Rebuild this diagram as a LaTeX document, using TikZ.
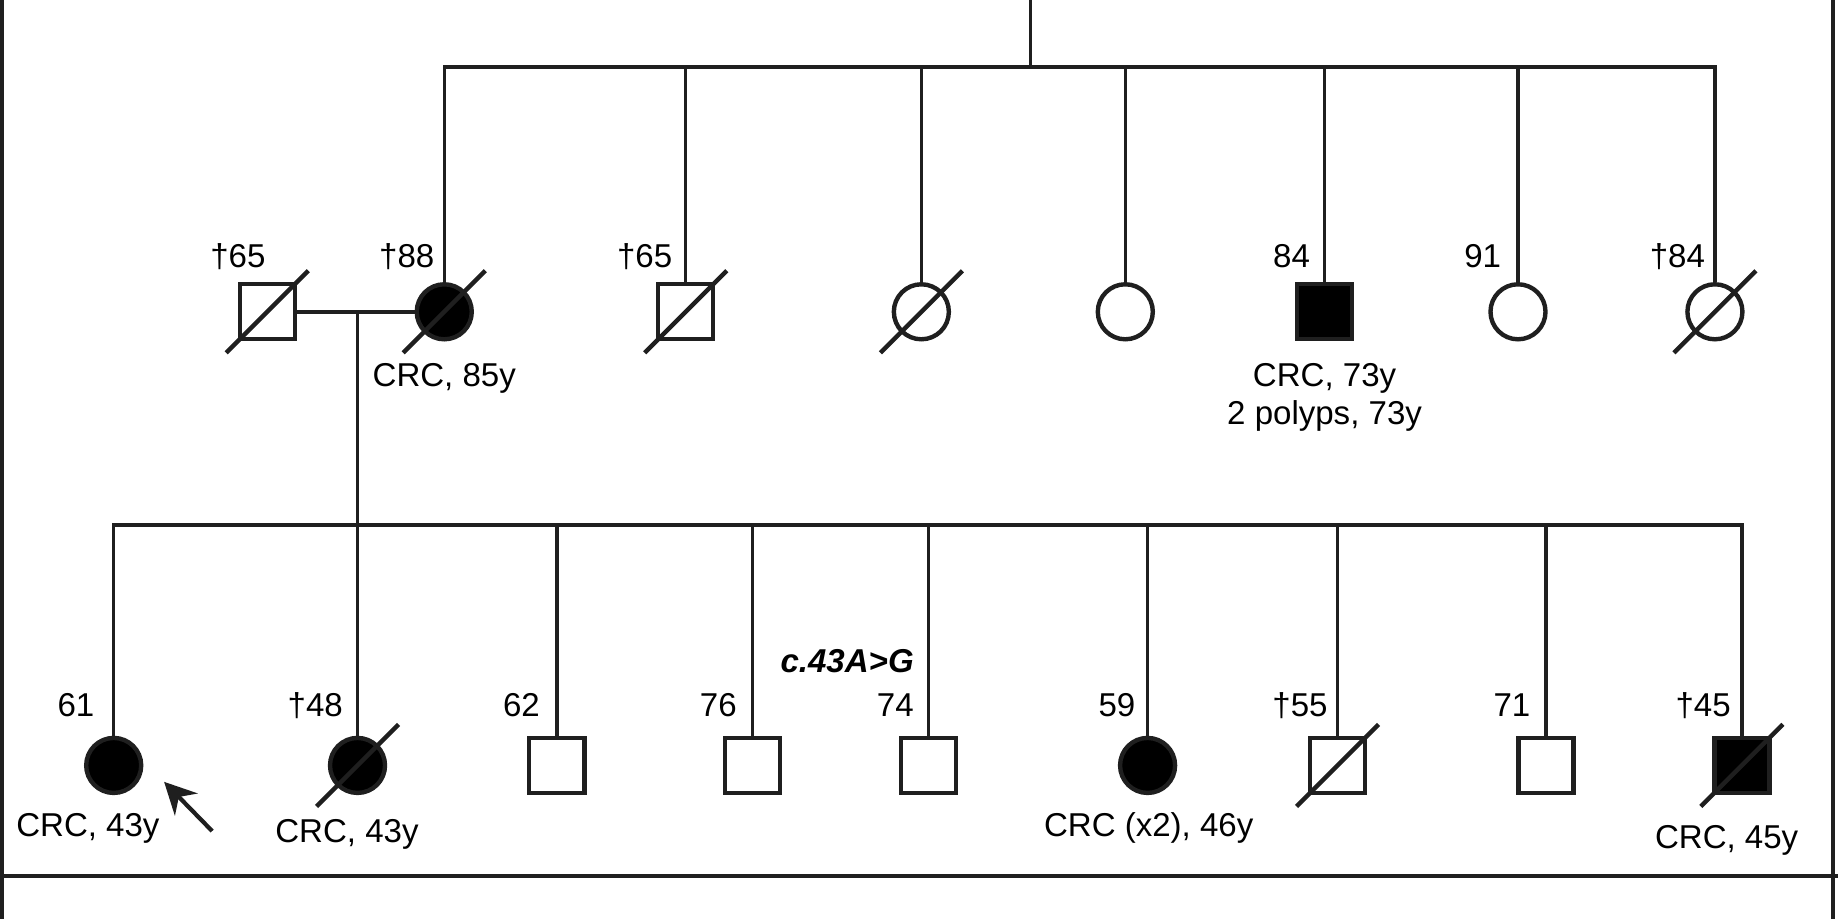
\documentclass[tikz,border=0pt]{standalone}
\usepackage{fontspec}
\setmainfont{Liberation Sans}
\usetikzlibrary{arrows.meta}

\begin{document}
\begin{tikzpicture}[x=0.011722cm, y={(0,-0.011722cm)}, line width=1pt, color=black!88,
		male/.style={draw, rectangle, minimum size=0.55cm, inner sep=0pt, line width=1.25pt},
		female/.style={draw, circle, minimum size=0.55cm, inner sep=0pt, line width=1.25pt},
		aff/.style={fill=black},
		slash/.style={line width=1.25pt},
		age/.style={anchor=base east, inner sep=0pt, text=black, font=\fontsize{9.4}{11}\selectfont},
		note/.style={anchor=base, inner sep=0pt, text=black, font=\fontsize{9.4}{11}\selectfont}]
	\useasboundingbox (0,0) rectangle (1568,784);
	
	% Marco
	\draw[line width=1.2pt] (2,0) -- (2,784);
	\draw[line width=1.2pt] (1564,0) -- (1564,784);
	\draw[line width=1.2pt] (0,747) -- (1568,747);
	
	% Generación II
	\node[male] (gfa) at (228,266) {};
	\node[female, aff] (gmo) at (379,266) {};
	\node[male] (u1) at (585,266) {};
	\node[female] (a1) at (786,266) {};
	\node[female] (a2) at (960,266) {};
	\node[male, aff] (u2) at (1130,266) {};
	\node[female] (a3) at (1295,266) {};
	\node[female] (a4) at (1463,266) {};
	
	% Generación III
	\node[female, aff] (c1) at (97,653) {};
	\node[female, aff] (c2) at (305,653) {};
	\node[male] (c3) at (475,653) {};
	\node[male] (c4) at (642,653) {};
	\node[male] (c5) at (792,653) {};
	\node[female, aff] (c6) at (979,653) {};
	\node[male] (c7) at (1141,653) {};
	\node[male] (c8) at (1319,653) {};
	\node[male, aff] (c9) at (1486,653) {};
	
	% Líneas de parentesco
	\coordinate (gen1) at (879,0);
	\coordinate (sib2) at (879,57);
	\draw (gen1) -- (sib2);
	\draw (gmo.north) |- (sib2) -| (a4.north);
	\foreach \n in {u1,a1,a2,u2,a3}
		\draw (\n.north) -- (\n.north |- sib2);
	
	\draw (gfa) -- (gmo); % pareja
	\coordinate (mar) at (305,266);
	\coordinate (sib3) at (305,448);
	\draw (mar) -- (c2.north);
	\draw (c1.north) |- (sib3) -| (c9.north);
	\foreach \n in {c3,c4,c5,c6,c7,c8}
		\draw (\n.north) -- (\n.north |- sib3);
	
	% Fallecidos
	\foreach \n in {gfa,gmo,u1,a1,a4,c2,c7,c9}
		\draw[slash] ([shift={(-35,35)}]\n.center) -- ([shift={(35,-35)}]\n.center);
	
	% Edades
	\node[age] (t-gfa) at (228,228) {†65};
	\node[age] (t-gmo) at (372,228) {†88};
	\node[age] (t-u1) at (575,228) {†65};
	\node[age] (t-u2) at (1119,228) {84};
	\node[age] (t-a3) at (1282,228) {91};
	\node[age] (t-a4) at (1456,228) {†84};
	\node[age] (t-c1) at (82,611) {61};
	\node[age] (t-c2) at (294,611) {†48};
	\node[age] (t-c3) at (462,611) {62};
	\node[age] (t-c4) at (630,611) {76};
	\node[age] (t-c5) at (781,611) {74};
	\node[age] (t-c6) at (970,611) {59};
	\node[age] (t-c7) at (1134,611) {†55};
	\node[age] (t-c8) at (1307,611) {71};
	\node[age] (t-c9) at (1478,611) {†45};
	\node[age, font=\fontsize{9.4}{11}\selectfont\bfseries\itshape] (var) at (781,574) {c.43A>G};
	
	% Diagnósticos
	\node[note] (d-gmo) at (379,330) {CRC, 85y};
	\node[note] (d-u2) at (1130,330) {CRC, 73y};
	\node[note] (d-u2b) at (1130,362) {2 polyps, 73y};
	\node[note] (d-c1) at (75,714) {CRC, 43y};
	\node[note] (d-c2) at (296,719) {CRC, 43y};
	\node[note] (d-c6) at (980,714) {CRC (x2), 46y};
	\node[note] (d-c9) at (1473,724) {CRC, 45y};
	
	% Probando
	\coordinate (pb-s) at (181,709);
	\coordinate (pb-e) at (140,667);
	\draw[-{Stealth[length=9pt, width=9pt, inset=3pt]}, line width=1.2pt] (pb-s) -- (pb-e);
\end{tikzpicture}
\end{document}
